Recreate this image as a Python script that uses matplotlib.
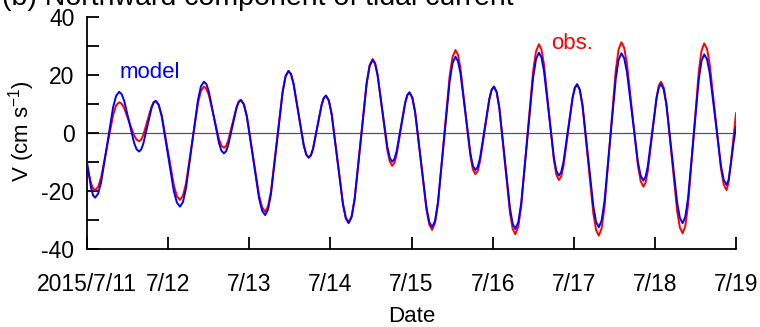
import matplotlib
matplotlib.use("Agg")
import matplotlib.pyplot as plt
import numpy as np
import pandas as pd

plt.rcParams['font.family'] = ['Liberation Sans', 'DejaVu Sans']
plt.rcParams['mathtext.fontset'] = 'custom'
plt.rcParams['mathtext.rm'] = 'Liberation Sans'
plt.rcParams['mathtext.it'] = 'Liberation Sans:italic'
plt.rcParams['axes.unicode_minus'] = False

# hours since 2015-07-11 00:00 (shared by both series)
hours = [0, 1.2, 1.8, 2.4,
         3.29, 4.18, 5.95, 7.73, 8.61, 9.5,
         10.24, 10.98, 12.45, 13.93, 14.66, 15.4,
         16.01, 16.63, 17.85, 19.08, 19.69, 20.3,
         21.2, 22.1, 23.9, 25.7, 26.6, 27.5,
         28.39, 29.28, 31.05, 32.83, 33.71, 34.6,
         35.34, 36.08, 37.55, 39.03, 39.76, 40.5,
         41.13, 41.75, 43.0, 44.25, 44.88, 45.5,
         46.4, 47.3, 49.1, 50.9, 51.8, 52.7,
         53.56, 54.43, 56.15, 57.88, 58.74, 59.6,
         60.35, 61.1, 62.6, 64.1, 64.85, 65.6,
         66.24, 66.88, 68.15, 69.43, 70.06, 70.7,
         71.54, 72.38, 74.05, 75.73, 76.56, 77.4,
         78.29, 79.18, 80.95, 82.73, 83.61, 84.5,
         85.23, 85.95, 87.4, 88.85, 89.58, 90.3,
         90.94, 91.58, 92.85, 94.13, 94.76, 95.4,
         96.24, 97.08, 98.75, 100.43, 101.26, 102.1,
         102.96, 103.83, 105.55, 107.28, 108.14, 109.0,
         109.74, 110.48, 111.95, 113.43, 114.16, 114.9,
         115.59, 116.28, 117.65, 119.03, 119.71, 120.4,
         121.19, 121.98, 123.55, 125.13, 125.91, 126.7,
         127.58, 128.45, 130.2, 131.95, 132.83, 133.7,
         134.44, 135.18, 136.65, 138.13, 138.86, 139.6,
         140.28, 140.95, 142.3, 143.65, 144.33, 145.0,
         145.8, 146.6, 148.2, 149.8, 150.6, 151.4,
         152.24, 153.08, 154.75, 156.43, 157.26, 158.1,
         158.91, 159.73, 161.35, 162.98, 163.79, 164.6,
         165.25, 165.9, 167.2, 168.5, 169.15, 169.8,
         170.6, 171.4, 173.0, 174.6, 175.4, 176.2,
         177.0, 177.8, 179.4, 181.0, 181.8, 182.6,
         183.43, 184.25, 185.9, 187.55, 188.38, 189.2,
         189.8, 190.5, 191.2, 192.0]

obs = [-11.5, -17.4, -19.1, -19.7,
       -18.6, -15.3, -4.6, 6.2, 9.5, 10.6,
       10.1, 8.6, 3.9, -0.8, -2.3, -2.8,
       -2.3, -0.8, 4.2, 9.1, 10.6, 11.1,
       9.8, 6.1, -6.0, -18.1, -21.8, -23.1,
       -21.6, -17.4, -3.6, 10.3, 14.5, 16.0,
       15.2, 12.9, 5.5, -2.0, -4.3, -5.1,
       -4.5, -2.7, 3.2, 9.0, 10.8, 11.4,
       9.9, 5.8, -7.9, -21.5, -25.6, -27.1,
       -25.3, -20.0, -2.9, 14.3, 19.6, 21.4,
       20.3, 17.0, 6.5, -4.1, -7.4, -8.5,
       -7.7, -5.4, 2.2, 9.8, 12.1, 12.9,
       11.2, 6.5, -9.0, -24.4, -29.1, -30.8,
       -28.7, -22.6, -2.7, 17.3, 23.4, 25.5,
       24.1, 20.1, 7.1, -5.9, -9.9, -11.3,
       -10.3, -7.6, 1.4, 10.3, 13.0, 14.0,
       12.2, 7.1, -9.7, -26.5, -31.6, -33.4,
       -31.0, -24.4, -2.4, 19.6, 26.2, 28.6,
       27.0, 22.4, 7.2, -8.0, -12.6, -14.2,
       -13.1, -9.8, 0.9, 11.6, 14.9, 16.0,
       14.1, 8.6, -9.5, -27.5, -33.0, -34.9,
       -32.4, -25.3, -2.2, 21.0, 28.1, 30.6,
       28.8, 23.8, 7.2, -9.4, -14.4, -16.2,
       -15.0, -11.4, 0.3, 12.0, 15.6, 16.8,
       14.8, 9.2, -9.3, -27.8, -33.4, -35.4,
       -32.9, -25.7, -2.1, 21.6, 28.8, 31.3,
       29.4, 24.0, 6.4, -11.2, -16.6, -18.5,
       -17.1, -13.2, -0.4, 12.4, 16.3, 17.7,
       15.7, 10.1, -8.5, -27.0, -32.6, -34.6,
       -32.1, -25.0, -1.9, 21.3, 28.4, 30.9,
       29.0, 23.5, 5.6, -12.3, -17.8, -19.7,
       -17.0, -10.0, -2.0, 6.8]

model = [-10.0, -18.9, -21.5, -22.3,
         -20.9, -17.0, -4.1, 8.9, 12.8, 14.2,
         13.4, 11.2, 3.9, -3.4, -5.6, -6.4,
         -5.7, -3.8, 2.4, 8.5, 10.4, 11.1,
         9.7, 5.8, -7.2, -20.1, -24.0, -25.4,
         -23.8, -19.1, -3.9, 11.4, 16.1, 17.7,
         16.8, 14.1, 5.4, -3.4, -6.1, -7.0,
         -6.3, -4.3, 2.2, 8.7, 10.7, 11.4,
         9.9, 5.6, -8.5, -22.5, -26.8, -28.3,
         -26.4, -21.0, -3.5, 14.1, 19.5, 21.4,
         20.3, 17.0, 6.5, -4.1, -7.4, -8.5,
         -7.7, -5.4, 2.2, 9.8, 12.1, 12.9,
         11.2, 6.5, -9.1, -24.7, -29.4, -31.1,
         -29.0, -22.9, -3.0, 17.0, 23.1, 25.2,
         23.9, 20.1, 7.7, -4.8, -8.6, -9.9,
         -9.0, -6.4, 2.1, 10.5, 13.1, 14.0,
         12.2, 7.2, -9.3, -25.7, -30.7, -32.5,
         -30.3, -23.9, -3.1, 17.7, 24.1, 26.3,
         24.8, 20.6, 6.8, -7.1, -11.3, -12.8,
         -11.7, -8.6, 1.6, 11.8, 14.9, 16.0,
         14.1, 8.8, -8.6, -25.9, -31.2, -33.1,
         -30.8, -24.2, -2.7, 18.8, 25.4, 27.7,
         26.1, 21.5, 6.5, -8.5, -13.1, -14.7,
         -13.5, -10.1, 1.1, 12.2, 15.6, 16.8,
         14.9, 9.6, -7.9, -25.3, -30.6, -32.5,
         -30.2, -23.7, -2.5, 18.7, 25.2, 27.5,
         25.8, 21.1, 5.6, -10.0, -14.7, -16.4,
         -15.1, -11.5, 0.3, 12.0, 15.6, 16.9,
         15.1, 9.9, -7.1, -24.1, -29.3, -31.1,
         -28.9, -22.6, -2.0, 18.6, 24.9, 27.1,
         25.4, 20.5, 4.6, -11.3, -16.2, -17.9,
         -16.2, -10.5, -4.0, 2.2]

day_labels = ["2015/7/11", "7/12", "7/13", "7/14", "7/15", "7/16", "7/17", "7/18", "7/19"]
y_ticks = [-40, -20, 0, 20, 40]
start = pd.Timestamp("2015-07-11")

t = start + pd.to_timedelta(hours, unit="h")
day_ticks = [start + pd.Timedelta(days=i) for i in range(len(day_labels))]

fig = plt.figure(figsize=(7.6, 3.27), dpi=100)
ax = fig.add_axes([87/760, 1-249/327, (736-87)/760, (249-17)/327])

ax.axhline(0, color='#555555', lw=0.9, zorder=1)
ax.plot(t, obs, color='#ff0000', lw=1.4, zorder=2)
ax.plot(t, model, color='#0000ff', lw=1.4, zorder=3)

ax.set_xlim(day_ticks[0], day_ticks[-1])
ax.set_ylim(-40, 40)
ax.set_xticks(day_ticks)
ax.set_xticklabels(day_labels)
ax.set_yticks(y_ticks)
ax.set_yticks(np.arange(-30, 31, 20), minor=True)
ax.tick_params(axis='both', which='both', direction='in', length=8.5, width=1.3,
               labelsize=16.5)
ax.tick_params(axis='x', pad=17)
ax.tick_params(axis='y', pad=9)
for s in ['top', 'right']:
    ax.spines[s].set_visible(False)
for s in ['left', 'bottom']:
    ax.spines[s].set_linewidth(1.3)

ax.set_xlabel("Date", fontsize=16)
ax.xaxis.set_label_coords(0.5, -0.245)
ax.set_ylabel("V (cm s$^{-1}$)", fontsize=16)
ax.yaxis.set_label_coords(-0.077, 0.51)

ax.text(day_ticks[0] + pd.Timedelta(hours=9.5), 21, "model", color='#0000ff',
        fontsize=16, ha='left', va='center')
ax.text(day_ticks[5] + pd.Timedelta(hours=17.3), 31, "obs.", color='#ff0000',
        fontsize=16, ha='left', va='center')

fig.text(0.003, 1 - 5/327, "(b) Northward component of tidal current", fontsize=20.5,
         ha='left', va='baseline')

fig.savefig("out.png", dpi=100)
